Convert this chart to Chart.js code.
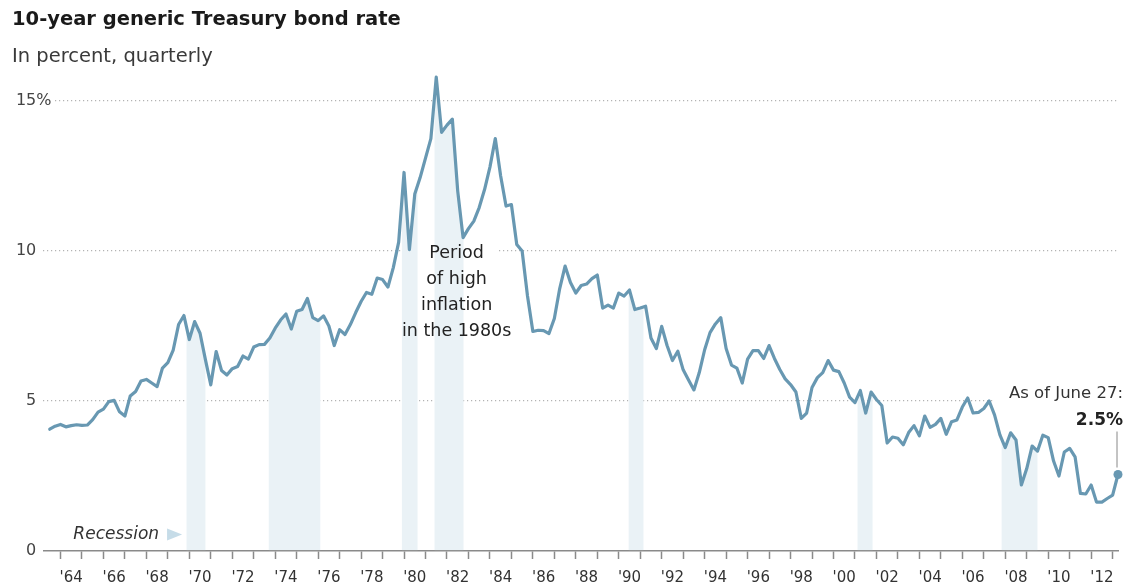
<!DOCTYPE html>
<html>
<head>
<meta charset="utf-8">
<script src="https://cdn.jsdelivr.net/npm/chart.js@4.4.1/dist/chart.umd.min.js"></script>
<style>
  html, body { margin: 0; padding: 0; background: #fff; }
  #chart { display: block; }
</style>
</head>
<body>
<canvas id="chart" width="1124" height="586"></canvas>
<script>
// quarterly readings, the first one is Q3 1963
const firstQuarter = 1963.5;
const rates = [
  4.06, 4.16, 4.22, 4.14, 4.18, 4.21, 4.19, 4.20, 4.38, 4.63,
  4.73, 4.98, 5.02, 4.64, 4.50, 5.17, 5.32, 5.67, 5.72, 5.60,
  5.48, 6.10, 6.28, 6.70, 7.55, 7.85, 7.05, 7.65, 7.26, 6.38,
  5.54, 6.65, 6.02, 5.87, 6.08, 6.15, 6.50, 6.40, 6.80, 6.88,
  6.89, 7.10, 7.43, 7.70, 7.90, 7.40, 7.99, 8.05, 8.42, 7.78,
  7.68, 7.84, 7.50, 6.85, 7.38, 7.22, 7.55, 7.95, 8.32, 8.62,
  8.56, 9.10, 9.05, 8.80, 9.45, 10.30, 12.62, 10.05, 11.90, 12.45,
  13.10, 13.75, 15.80, 13.96, 14.20, 14.40, 12.00, 10.45, 10.75, 11.00,
  11.45, 12.05, 12.80, 13.75, 12.50, 11.50, 11.55, 10.22, 10.00, 8.50,
  7.32, 7.36, 7.35, 7.25, 7.75, 8.75, 9.50, 8.95, 8.60, 8.85,
  8.90, 9.08, 9.20, 8.10, 8.20, 8.10, 8.60, 8.50, 8.70, 8.05,
  8.10, 8.16, 7.10, 6.75, 7.49, 6.85, 6.35, 6.66, 6.04, 5.70,
  5.37, 5.95, 6.71, 7.28, 7.57, 7.78, 6.75, 6.20, 6.10, 5.60,
  6.40, 6.68, 6.68, 6.42, 6.85, 6.42, 6.05, 5.74, 5.55, 5.30,
  4.42, 4.60, 5.45, 5.78, 5.95, 6.35, 6.03, 5.98, 5.60, 5.13,
  4.95, 5.35, 4.60, 5.30, 5.05, 4.85, 3.60, 3.80, 3.76, 3.54,
  3.95, 4.18, 3.84, 4.50, 4.12, 4.22, 4.42, 3.89, 4.31, 4.37,
  4.80, 5.10, 4.60, 4.62, 4.75, 5.00, 4.54, 3.87, 3.45, 3.94,
  3.70, 2.20, 2.75, 3.50, 3.33, 3.86, 3.78, 3.00, 2.50, 3.30,
  3.42, 3.14, 1.92, 1.90, 2.20, 1.63, 1.63, 1.75, 1.86, 2.55
];

// recessions (shaded), in decimal years
const recessionStart = [1969.87, 1973.70, 1979.90, 1981.42, 1990.46, 2001.12, 2007.83];
const recessionEnd   = [1970.75, 1976.10, 1980.63, 1982.77, 1991.15, 2001.82, 2009.50];

const yTicks = [0, 5, 10, 15];
const yTickLabels = ['0', '5', '10', '15%'];

const labelYears = [1964, 1966, 1968, 1970, 1972, 1974, 1976, 1978, 1980, 1982, 1984, 1986,
                    1988, 1990, 1992, 1994, 1996, 1998, 2000, 2002, 2004, 2006, 2008, 2010, 2012];
const yearLabels = ["'64", "'66", "'68", "'70", "'72", "'74", "'76", "'78", "'80", "'82", "'84", "'86",
                    "'88", "'90", "'92", "'94", "'96", "'98", "'00", "'02", "'04", "'06", "'08", "'10", "'12"];

const inflationNote = ['Period', 'of high', 'inflation', 'in the 1980s'];
const latestNote = ['As of June 27:', '2.5%'];

const lineColor = '#6898b2';
const bandColor = '#eaf2f6';
const FONT = '"DejaVu Sans", sans-serif';

const quarters = rates.map((v, i) => firstQuarter + i * 0.25);
const points = rates.map((v, i) => ({ x: quarters[i], y: v }));

const tickYears = [];
for (let yr = 1964; yr <= 2013; yr++) tickYears.push(yr);

// white gaps in the gridlines behind the notes
const backdrops = {
  id: 'backdrops',
  beforeDatasetsDraw(chart) {
    const { ctx, scales: { x, y } } = chart;
    const pts = chart.getDatasetMeta(0).data;
    const last = pts[pts.length - 1];
    ctx.save();
    ctx.fillStyle = '#fff';
    const cx = x.getPixelForValue(1982.45);
    ctx.fillRect(cx - 42, y.getPixelForValue(10) - 4, 84, 8);
    ctx.fillRect(last.x - 124, y.getPixelForValue(5) - 4, 140, 8);
    ctx.restore();
  }
};

// recession bands: area under the line inside each recession
const recessionShading = {
  id: 'recessionShading',
  beforeDatasetsDraw(chart) {
    const { ctx, chartArea, scales: { x, y } } = chart;
    const pts = chart.getDatasetMeta(0).data;
    const base = y.getPixelForValue(0) - 0.8;
    ctx.save();
    ctx.fillStyle = bandColor;
    recessionStart.forEach((s, k) => {
      const x0 = x.getPixelForValue(s);
      const x1 = x.getPixelForValue(recessionEnd[k]);
      ctx.save();
      ctx.beginPath();
      ctx.rect(x0, chartArea.top, x1 - x0, base - chartArea.top);
      ctx.clip();
      ctx.beginPath();
      ctx.moveTo(pts[0].x, base);
      pts.forEach(p => ctx.lineTo(p.x, p.y));
      ctx.lineTo(pts[pts.length - 1].x, base);
      ctx.closePath();
      ctx.fill();
      ctx.restore();
    });
    ctx.restore();
  }
};

const notes = {
  id: 'notes',
  afterDraw(chart) {
    const { ctx, scales: { x, y } } = chart;
    const pts = chart.getDatasetMeta(0).data;
    const last = pts[pts.length - 1];
    ctx.save();

    // y labels, the % hangs to the right
    ctx.font = '16px ' + FONT;
    ctx.fillStyle = '#444';
    ctx.textBaseline = 'middle';
    yTicks.forEach((v, k) => {
      const py = y.getPixelForValue(v);
      let lab = yTickLabels[k];
      const edge = x.left - 7;
      if (lab.endsWith('%')) {
        lab = lab.slice(0, -1);
        ctx.fillStyle = '#fff';
        ctx.fillRect(edge, py - 4, 18, 8);
        ctx.fillStyle = '#444';
        ctx.textAlign = 'left';
        ctx.fillText('%', edge, py);
      }
      ctx.textAlign = 'right';
      ctx.fillText(lab, edge, py);
    });

    // 1980s note
    ctx.font = '17.5px ' + FONT;
    ctx.fillStyle = '#222';
    ctx.textAlign = 'center';
    const cx = x.getPixelForValue(1982.45);
    let ly = y.getPixelForValue(9.93);
    inflationNote.forEach(t => { ctx.fillText(t, cx, ly); ly += 26.2; });

    // latest value
    ctx.textAlign = 'right';
    ctx.font = '16.5px ' + FONT;
    ctx.fillStyle = '#333';
    ctx.fillText(latestNote[0], last.x + 5, last.y - 81);
    ctx.font = 'bold 17px ' + FONT;
    ctx.fillStyle = '#222';
    ctx.fillText(latestNote[1], last.x + 5, last.y - 54);
    ctx.strokeStyle = '#888';
    ctx.lineWidth = 1;
    ctx.beginPath();
    ctx.moveTo(last.x - 1, last.y - 7);
    ctx.lineTo(last.x - 1, last.y - 43);
    ctx.stroke();

    // recession key
    ctx.font = 'italic 17px ' + FONT;
    ctx.fillStyle = '#333';
    ctx.textAlign = 'left';
    const kx = x.getPixelForValue(1964.6);
    const ky = y.getPixelForValue(0.55);
    ctx.fillText('Recession', kx, ky);
    const tx = kx + ctx.measureText('Recession').width + 8;
    ctx.fillStyle = '#c6dce8';
    ctx.beginPath();
    ctx.moveTo(tx, ky - 6);
    ctx.lineTo(tx + 15, ky);
    ctx.lineTo(tx, ky + 6);
    ctx.closePath();
    ctx.fill();

    ctx.restore();
  }
};

new Chart(document.getElementById('chart'), {
  type: 'line',
  data: {
    datasets: [{
      data: points,
      borderColor: lineColor,
      backgroundColor: lineColor,
      borderWidth: 3.2,
      borderJoinStyle: 'round',
      borderCapStyle: 'round',
      tension: 0,
      fill: false,
      clip: false,
      pointRadius: ctx => ctx.dataIndex === rates.length - 1 ? 4.5 : 0,
      pointHoverRadius: ctx => ctx.dataIndex === rates.length - 1 ? 4.5 : 0,
      pointBorderWidth: 0,
      pointBackgroundColor: lineColor
    }]
  },
  options: {
    responsive: false,
    devicePixelRatio: 1,
    animation: false,
    layout: { padding: { left: 12, right: 6, top: 0, bottom: 0 } },
    plugins: {
      legend: { display: false },
      tooltip: { enabled: false },
      title: {
        display: true,
        text: '10-year generic Treasury bond rate',
        align: 'start',
        color: '#1a1a1a',
        font: { family: FONT, size: 19.5, weight: 'bold', lineHeight: 1.2 },
        padding: { top: 8.5, bottom: 10 }
      },
      subtitle: {
        display: true,
        text: 'In percent, quarterly',
        align: 'start',
        color: '#3a3a3a',
        font: { family: FONT, size: 19.5, weight: 'normal', lineHeight: 1.2 },
        padding: { top: 3.5, bottom: 2.3 }
      }
    },
    scales: {
      x: {
        type: 'linear',
        min: 1963.2,
        max: 2013.25,
        afterBuildTicks: scale => {
          scale.ticks = tickYears.map(v => ({ value: v }))
            .concat(labelYears.map(v => ({ value: v + 0.5 })))
            .sort((a, b) => a.value - b.value);
        },
        afterFit: scale => { scale.height = 35; },
        grid: {
          drawOnChartArea: false,
          drawTicks: true,
          tickLength: 8,
          tickWidth: 1.5,
          tickColor: ctx => (ctx.tick && Number.isInteger(ctx.tick.value)) ? '#8a8a8a' : 'rgba(0,0,0,0)'
        },
        border: { display: true, color: '#8a8a8a', width: 1.5 },
        ticks: {
          autoSkip: false,
          maxRotation: 0,
          padding: 10,
          color: '#333',
          font: { family: FONT, size: 15 },
          callback: value => {
            const k = labelYears.indexOf(value - 0.5);
            return k >= 0 ? yearLabels[k] : '';
          }
        }
      },
      y: {
        min: 0,
        max: 16,
        afterBuildTicks: scale => { scale.ticks = yTicks.map(v => ({ value: v })); },
        afterFit: scale => { scale.width = 31.3; },
        ticks: { display: false },
        grid: {
          drawTicks: false,
          lineWidth: 1.2,
          color: ctx => (ctx.tick && ctx.tick.value === 0) ? 'rgba(0,0,0,0)' : '#b3b3b3'
        },
        border: { display: false, dash: [1.2, 2.8] }
      }
    }
  },
  plugins: [backdrops, recessionShading, notes]
});
</script>
</body>
</html>
